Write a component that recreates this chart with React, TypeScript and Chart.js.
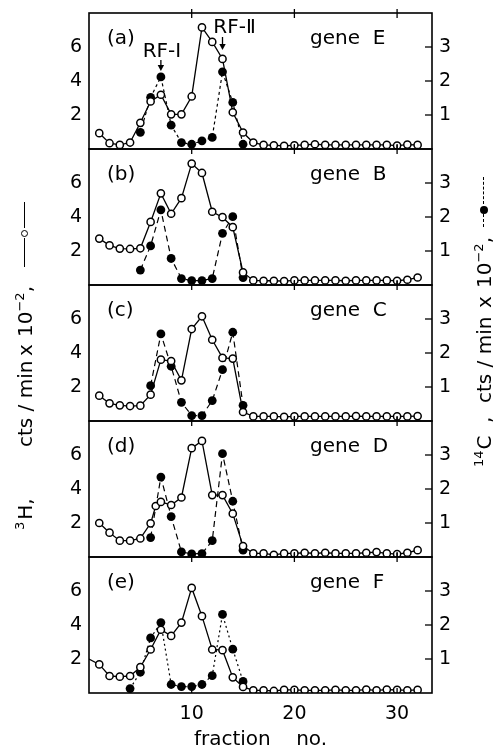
import React, { useEffect, useRef } from 'react';
import { Chart, registerables } from 'chart.js';

Chart.register(...registerables);

// ---------- data ----------
const FRACTIONS = [1, 2, 3, 4, 5, 6, 7, 8, 9, 10, 11, 12, 13, 14, 15, 16, 17, 18, 19, 20, 21, 22, 23, 24, 25, 26, 27, 28, 29, 30, 31, 32];

// (a) gene E
const H3_A = [0.93, 0.34, 0.24, 0.38, 1.54, 2.8, 3.19, 2.04, 2.04, 3.09, 7.15, 6.3, 5.3, 2.16, 0.97, 0.38, 0.24, 0.22, 0.18, 0.22, 0.24, 0.28, 0.24, 0.24, 0.24, 0.24, 0.24, 0.24, 0.24, 0.2, 0.26, 0.24];
const C14_A_X = [5, 6, 7, 8, 9, 10, 11, 12, 13, 14, 15];
const C14_A = [0.49, 1.52, 2.12, 0.7, 0.19, 0.14, 0.24, 0.34, 2.27, 1.37, 0.14];

// (b) gene B
const H3_B = [2.73, 2.33, 2.14, 2.12, 2.16, 3.71, 5.39, 4.19, 5.11, 7.14, 6.59, 4.31, 3.99, 3.4, 0.74, 0.27, 0.25, 0.25, 0.23, 0.27, 0.27, 0.27, 0.27, 0.27, 0.25, 0.27, 0.27, 0.27, 0.27, 0.25, 0.31, 0.44];
const C14_B_X = [5, 6, 7, 8, 9, 10, 11, 12, 13, 14, 15];
const C14_B = [0.44, 1.15, 2.21, 0.78, 0.19, 0.13, 0.13, 0.19, 1.52, 2.01, 0.22];

// (c) gene C
const H3_C = [1.49, 1.04, 0.92, 0.88, 0.9, 1.55, 3.61, 3.53, 2.39, 5.41, 6.16, 4.78, 3.71, 3.67, 0.53, 0.27, 0.27, 0.27, 0.24, 0.27, 0.27, 0.27, 0.27, 0.27, 0.27, 0.29, 0.27, 0.27, 0.27, 0.27, 0.27, 0.29];
const C14_C_X = [6, 7, 8, 9, 10, 11, 12, 13, 14, 15];
const C14_C = [1.04, 2.56, 1.61, 0.55, 0.16, 0.16, 0.6, 1.51, 2.61, 0.46];

// (d) gene D  (one extra half fraction near 6.5)
const H3_D_X = [1, 2, 3, 4, 5, 6, 6.5, 7, 8, 9, 10, 11, 12, 13, 14, 15, 16, 17, 18, 19, 20, 21, 22, 23, 24, 25, 26, 27, 28, 29, 30, 31, 32];
const H3_D = [2.0, 1.43, 0.96, 0.96, 1.09, 1.98, 3.0, 3.24, 3.06, 3.5, 6.4, 6.83, 3.64, 3.64, 2.55, 0.64, 0.21, 0.21, 0.13, 0.21, 0.21, 0.25, 0.21, 0.25, 0.21, 0.21, 0.21, 0.25, 0.29, 0.21, 0.17, 0.25, 0.4];
const C14_D_X = [6, 7, 8, 9, 10, 11, 12, 13, 14, 15];
const C14_D = [0.57, 2.35, 1.19, 0.15, 0.09, 0.1, 0.48, 3.04, 1.64, 0.2];

// (e) gene F  (curve enters from fraction 0)
const H3_E_X = [0, 1, 2, 3, 4, 5, 6, 7, 8, 9, 10, 11, 12, 13, 14, 15, 16, 17, 18, 19, 20, 21, 22, 23, 24, 25, 26, 27, 28, 29, 30, 31, 32];
const H3_E = [2.0, 1.68, 1.0, 0.96, 1.0, 1.52, 2.56, 3.72, 3.36, 4.14, 6.18, 4.52, 2.56, 2.52, 0.92, 0.36, 0.16, 0.16, 0.12, 0.18, 0.18, 0.16, 0.16, 0.16, 0.18, 0.16, 0.16, 0.2, 0.16, 0.2, 0.18, 0.16, 0.18];
const C14_E_X = [4, 5, 6, 7, 8, 9, 10, 11, 12, 13, 14, 15];
const C14_E = [0.13, 0.61, 1.62, 2.07, 0.25, 0.19, 0.19, 0.25, 0.51, 2.31, 1.29, 0.34];

const PANEL_LABELS = ['(a)', '(b)', '(c)', '(d)', '(e)'];
const GENE_LABELS = ['gene  E', 'gene  B', 'gene  C', 'gene  D', 'gene  F'];
const X_TICKS = [10, 20, 30];
const LEFT_TICKS = [2, 4, 6];
const RIGHT_TICKS = [1, 2, 3];
const X_TITLE = 'fraction    no.';

// ---------- layout ----------
const FONT = '"DejaVu Sans", sans-serif';
const PANEL_TOPS = [13, 149, 285, 421, 557];
const PANEL_H = 136;
const PAD = 22;
const LEFT_W = 89;
const RIGHT_W = 68;
const XAXIS_H = 59;
const W = 500;
const H = 752;

const PANELS = [
  { hx: FRACTIONS, h: H3_A, cx: C14_A_X, c: C14_A, dash: [3, 3],
    arrows: [
      { x: 7, text: 'RF-\u2160', textDx: 1, textY: 39, top: 47, tip: 58 },
      { x: 13, text: 'RF-\u2161', textDx: 12, textY: 14.5, top: 24, tip: 37 },
    ] },
  { hx: FRACTIONS, h: H3_B, cx: C14_B_X, c: C14_B, dash: [6, 4], arrows: [] },
  { hx: FRACTIONS, h: H3_C, cx: C14_C_X, c: C14_C, dash: [6, 4], arrows: [] },
  { hx: H3_D_X, h: H3_D, cx: C14_D_X, c: C14_D, dash: [6, 4], arrows: [] },
  { hx: H3_E_X, h: H3_E, cx: C14_E_X, c: C14_E, dash: [2, 3], arrows: [] },
];

const decorPlugin = {
  id: 'panelDecor',
  afterDatasetsDraw(chart: any, _args: any, opts: any) {
    const { ctx, chartArea: a, scales } = chart;
    ctx.save();
    ctx.strokeStyle = '#000';
    ctx.fillStyle = '#000';
    ctx.lineWidth = 1.6;
    ctx.setLineDash([]);
    ctx.strokeRect(a.left, a.top, a.right - a.left, a.bottom - a.top);
    ctx.lineWidth = 1.3;
    const line = (x1: number, y1: number, x2: number, y2: number) => {
      ctx.beginPath();
      ctx.moveTo(x1, y1);
      ctx.lineTo(x2, y2);
      ctx.stroke();
    };
    for (const v of X_TICKS) {
      const px = scales.x.getPixelForValue(v);
      line(px, a.top - 4, px, a.top + 5);
      line(px, a.bottom - 5, px, a.bottom);
    }
    for (const v of RIGHT_TICKS) {
      const py = scales.y1.getPixelForValue(v);
      line(a.right - 7, py, a.right, py);
    }
    ctx.font = '20px ' + FONT;
    ctx.textBaseline = 'middle';
    ctx.textAlign = 'left';
    ctx.fillText(opts.label, a.left + 18, a.top + 26);
    ctx.fillText(opts.gene, a.left + 221, a.top + 26);
    ctx.textAlign = 'center';
    for (const ar of opts.arrows || []) {
      const px = scales.x.getPixelForValue(ar.x);
      ctx.fillText(ar.text, px + ar.textDx, a.top + ar.textY);
      ctx.lineWidth = 1.3;
      line(px, a.top + ar.top, px, a.top + ar.tip - 4);
      ctx.beginPath();
      ctx.moveTo(px - 3.2, a.top + ar.tip - 6);
      ctx.lineTo(px + 3.2, a.top + ar.tip - 6);
      ctx.lineTo(px, a.top + ar.tip);
      ctx.closePath();
      ctx.fill();
    }
    ctx.restore();
  },
};

function Panel({ index }: { index: number }) {
  const ref = useRef<HTMLCanvasElement | null>(null);
  const p = PANELS[index];
  const isLast = index === PANELS.length - 1;
  const canvasTop = PANEL_TOPS[index] - PAD;
  const canvasH = PANEL_H + PAD + (isLast ? XAXIS_H : PAD);

  useEffect(() => {
    if (!ref.current) return;
    const open = p.hx.map((x, i) => ({ x, y: p.h[i] }));
    const filled = p.cx.map((x, i) => ({ x, y: p.c[i] }));
    const tickFont = { family: FONT, size: 19 };
    const chart = new Chart(ref.current, {
      type: 'line',
      data: {
        datasets: [
          {
            data: open,
            yAxisID: 'y',
            borderColor: '#000',
            borderWidth: 1.3,
            pointRadius: (c: any) => (c.raw && c.raw.x === 0 ? 0 : 3.6),
            pointBackgroundColor: '#fff',
            pointBorderColor: '#000',
            pointBorderWidth: 1.5,
            tension: 0,
            order: 0,
          },
          {
            data: filled,
            yAxisID: 'y1',
            borderColor: '#000',
            borderWidth: 1.2,
            borderDash: p.dash,
            pointRadius: 4.4,
            pointBackgroundColor: '#000',
            pointBorderColor: '#000',
            pointBorderWidth: 0,
            tension: 0,
            order: 1,
          },
        ],
      },
      options: {
        animation: false,
        responsive: false,
        devicePixelRatio: 1,
        layout: { padding: { top: PAD, bottom: isLast ? 0 : PAD, left: 0, right: 0 } },
        plugins: {
          legend: { display: false },
          tooltip: { enabled: false },
          panelDecor: { label: PANEL_LABELS[index], gene: GENE_LABELS[index], arrows: p.arrows },
        } as any,
        scales: {
          x: {
            type: 'linear',
            min: 0,
            max: 33.4,
            display: isLast,
            grid: { display: false, drawTicks: false },
            border: { display: false },
            afterBuildTicks: (s: any) => { s.ticks = X_TICKS.map((v) => ({ value: v })); },
            ticks: { font: tickFont, color: '#000', padding: 10, maxRotation: 0, autoSkip: false },
            title: { display: isLast, text: X_TITLE, font: { family: FONT, size: 20 }, color: '#000', padding: 0 },
            afterFit: (s: any) => { s.height = isLast ? XAXIS_H : 0; },
          },
          y: {
            position: 'left',
            min: 0,
            max: 8,
            grid: { display: false, drawTicks: false },
            border: { display: false },
            afterBuildTicks: (s: any) => { s.ticks = LEFT_TICKS.map((v) => ({ value: v })); },
            ticks: { font: tickFont, color: '#000', padding: 7 },
            afterFit: (s: any) => { s.width = LEFT_W; },
          },
          y1: {
            position: 'right',
            min: 0,
            max: 4,
            grid: { display: false, drawTicks: false },
            border: { display: false },
            afterBuildTicks: (s: any) => { s.ticks = RIGHT_TICKS.map((v) => ({ value: v })); },
            ticks: { font: tickFont, color: '#000', padding: 7 },
            afterFit: (s: any) => { s.width = RIGHT_W; },
          },
        },
      } as any,
      plugins: [decorPlugin],
    });
    return () => chart.destroy();
  }, []);

  return (
    <canvas
      ref={ref}
      width={W}
      height={canvasH}
      style={{ position: 'absolute', left: 0, top: canvasTop, width: W, height: canvasH }}
    />
  );
}

// rotated axis titles (text reads bottom-to-top); pieces placed along the text line
const TITLE_H = 24;
const supStyle: React.CSSProperties = { fontSize: 13, position: 'relative', top: -8 };
const piece = (left: number): React.CSSProperties => ({ position: 'absolute', left, top: 0, lineHeight: TITLE_H + 'px', whiteSpace: 'nowrap' });
const hline = (left: number, width: number, style: string): React.CSSProperties => ({
  position: 'absolute', left, top: TITLE_H / 2 - 0.75, width, height: 0, borderTop: '1.5px ' + style + ' #000',
});

function RotatedTitle({ cx, cy, len, children }: { cx: number; cy: number; len: number; children: React.ReactNode }) {
  return (
    <div
      style={{
        position: 'absolute',
        left: cx - len / 2,
        top: cy - TITLE_H / 2,
        width: len,
        height: TITLE_H,
        transform: 'rotate(-90deg)',
        font: '20px "DejaVu Sans", sans-serif',
        color: '#000',
      }}
    >
      {children}
    </div>
  );
}

function LeftTitle() {
  return (
    <RotatedTitle cx={25} cy={366} len={328}>
      <span style={piece(0)}><span style={{ ...supStyle, marginRight: 2 }}>3</span>H,</span>
      <span style={piece(83)}>cts / min</span>
      <span style={piece(174)}>x</span>
      <span style={piece(193)}>10<span style={supStyle}>−2</span>,</span>
      <span style={hline(263, 29, 'solid')} />
      <span style={{ position: 'absolute', left: 293, top: TITLE_H / 2 - 4, width: 5, height: 5, border: '1.5px solid #000', borderRadius: '50%' }} />
      <span style={hline(302, 26, 'solid')} />
    </RotatedTitle>
  );
}

function RightTitle() {
  return (
    <RotatedTitle cx={484} cy={322} len={290}>
      <span style={piece(0)}><span style={{ ...supStyle, marginRight: 1 }}>14</span>C</span>
      <span style={piece(44)}>,</span>
      <span style={piece(64)}>cts / min</span>
      <span style={piece(159)}>x</span>
      <span style={piece(179)}>10<span style={supStyle}>−2</span>,</span>
      <span style={hline(240, 13, 'dashed')} />
      <span style={{ position: 'absolute', left: 253, top: TITLE_H / 2 - 4, width: 8, height: 8, background: '#000', borderRadius: '50%' }} />
      <span style={hline(263, 27, 'dashed')} />
    </RotatedTitle>
  );
}

export default function App() {
  return (
    <div style={{ position: 'absolute', left: 0, top: 0, width: W, height: H, background: '#fff', overflow: 'hidden' }}>
      {PANELS.map((_, i) => (
        <Panel key={i} index={i} />
      ))}
      <LeftTitle />
      <RightTitle />
    </div>
  );
}
